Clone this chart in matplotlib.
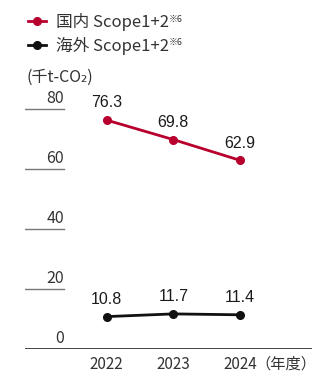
import matplotlib.pyplot as plt
from matplotlib.lines import Line2D

plt.rcParams['font.family'] = ['Noto Sans CJK JP', 'DejaVu Sans']

# data
years = ['2022', '2023', '2024']
domestic = [76.3, 69.8, 62.9]
overseas = [10.8, 11.7, 11.4]
yticks = [0, 20, 40, 60, 80]
label_dom = '国内 Scope1+2'
label_ovs = '海外 Scope1+2'
unit = '(千t-CO₂)'

RED = '#b8002e'
BLACK = '#111111'
TEXT = '#333333'


def main():
    fig = plt.figure(figsize=(3.29, 3.75), dpi=100)
    ax = fig.add_axes([25 / 329, 26 / 375, 287 / 329, 249 / 375])
    x = list(range(len(years)))

    ax.plot(x, domestic, color=RED, lw=2, marker='o', ms=5.5, zorder=3)
    ax.plot(x, overseas, color=BLACK, lw=2, marker='o', ms=5.5, zorder=3)

    valfont = dict(family=['Liberation Sans', 'DejaVu Sans'], fontsize=11.5,
                   color='#1a1a1a')
    for xi, v in zip(x, domestic):
        ax.annotate(f'{v:.1f}', (xi, v), xytext=(0, 7), textcoords='offset points',
                    ha='center', va='bottom', **valfont)
    for xi, v in zip(x, overseas):
        ax.annotate(f'{v:.1f}', (xi, v), xytext=(0, 7), textcoords='offset points',
                    ha='center', va='bottom', **valfont)

    ax.set_xlim(-1.225, 3.08)
    ax.set_ylim(0, 83)

    # short tick segments with labels above them
    seg = (64 - 25) / 287
    for t in yticks:
        if t == 0:
            ax.axhline(0, color='#222222', lw=1.2)
        else:
            ax.axhline(t, xmin=0, xmax=seg, color='#777777', lw=1)
        ax.annotate(str(t), (seg, t), xycoords=('axes fraction', 'data'),
                    xytext=(0, 1.5), textcoords='offset points',
                    ha='right', va='bottom', fontsize=11.5, color=TEXT)

    for s in ax.spines.values():
        s.set_visible(False)
    ax.set_yticks([])
    ax.set_xticks(x)
    ax.set_xticklabels(years, fontsize=11, color=TEXT)
    ax.tick_params(axis='x', length=0, pad=5)
    ax.text(1.015, -0.028, '（年度）', transform=ax.transAxes, ha='right', va='top',
            fontsize=11, color=TEXT)

    fig.text(26 / 329, 1 - 77 / 375, unit, ha='left', va='center',
             fontsize=11.5, color=TEXT)

    handles = [Line2D([], [], color=RED, lw=2, marker='o', ms=5.5),
               Line2D([], [], color=BLACK, lw=2, marker='o', ms=5.5)]
    leg = fig.legend(handles, [label_dom, label_ovs], loc='upper left',
                     bbox_to_anchor=(0.04, 1.005), frameon=False, fontsize=12,
                     handlelength=1.1, handletextpad=0.55, labelspacing=0.35,
                     labelcolor=TEXT)
    fig.canvas.draw()
    for t in leg.get_texts():
        ax.annotate('※6', xy=(1, 1), xycoords=t, xytext=(0, -1),
                    textcoords='offset points', ha='left', va='top',
                    fontsize=6.5, color=TEXT, annotation_clip=False)

    fig.savefig('out.png', dpi=100)


if __name__ == "__main__":
    main()
